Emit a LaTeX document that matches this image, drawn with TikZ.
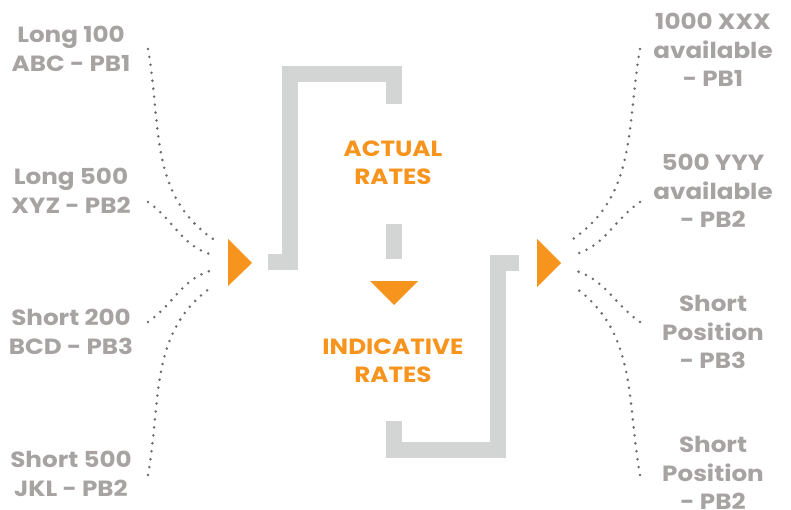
\documentclass[tikz,border=0pt]{standalone}
\usepackage{fontspec}
\setmainfont{Poppins}[FakeStretch=1.12]
\usepackage{xcolor}
\usetikzlibrary{positioning}
\definecolor{rateorange}{HTML}{F7941D}
\definecolor{labelgray}{HTML}{A7A3A3}
\definecolor{bargray}{HTML}{D3D4D4}
\definecolor{dotgray}{HTML}{6E6A6A}

\begin{document}
\begin{tikzpicture}[x=1pt, y=-1pt,
    lbl/.style={align=center, text=labelgray, inner sep=0pt,
        font=\fontsize{22}{28.5}\selectfont\bfseries},
    rate/.style={align=center, text=rateorange, inner sep=0pt,
        font=\fontsize{22}{28}\selectfont\bfseries},
    bar/.style={draw=bargray, line width=16pt, line join=miter},
    fan/.style={draw=dotgray, line width=2.8pt, line cap=round,
        dash pattern=on 0pt off 8pt},
    tip/.style={fill=rateorange}]
    \useasboundingbox (0,0) rectangle (791,510);

    % positions on the left
    \node[lbl] (long100)  at (71,49)  {Long 100\\ABC - PB1};
    \node[lbl] (long500)  at (71,191) {Long 500\\XYZ - PB2};
    \node[lbl] (short200) at (71,332) {Short 200\\BCD - PB3};
    \node[lbl] (short500) at (71,474) {Short 500\\JKL - PB2};

    % availability on the right
    \node[lbl] (xxx)   at (713,50)  {1000 XXX\\available\\- PB1};
    \node[lbl] (yyy)   at (713,191) {500 YYY\\available\\- PB2};
    \node[lbl] (pos3)  at (713,332) {Short\\Position\\- PB3};
    \node[lbl] (pos2)  at (713,473) {Short\\Position\\- PB2};

    \node[rate] (actual) at (393,163) {ACTUAL\\RATES};
    \node[rate] (indic)  at (393,361) {INDICATIVE\\RATES};

    \coordinate (a1) at (148,49);
    \coordinate (a2) at (148,202);
    \coordinate (a3) at (148,322);
    \coordinate (a4) at (148,475);
    \coordinate (in1) at (213,239);
    \coordinate (in2) at (213,255);
    \coordinate (in3) at (213,270);
    \coordinate (in4) at (213,286);

    \coordinate (b1) at (640,49);
    \coordinate (b2) at (640,202);
    \coordinate (b3) at (640,322);
    \coordinate (b4) at (640,475);
    \coordinate (out1) at (573,239);
    \coordinate (out2) at (573,255);
    \coordinate (out3) at (573,270);
    \coordinate (out4) at (573,286);

    \draw[fan]
        (a1) to[out=-80, in=145]  (in1)
        (a2) to[out=-35, in=165]  (in2)
        (a3) to[out=35,  in=-165] (in3)
        (a4) to[out=80,  in=-145] (in4);
    \draw[fan]
        (b1) to[out=-100, in=35]  (out1)
        (b2) to[out=-145, in=15]  (out2)
        (b3) to[out=145,  in=-15] (out3)
        (b4) to[out=100,  in=-35] (out4);

    % brackets
    \draw[bar] (268,262) -- (290,262) -- (290,74) -- (394,74) -- (394,104);
    \draw[bar] (394,224) -- (394,259);
    \draw[bar] (519,263) -- (498,263) -- (498,450) -- (394,450) -- (394,421);

    \fill[tip] (228,239) -- (252,263) -- (228,286) -- cycle;
    \fill[tip] (370,281) -- (418,281) -- (394,305) -- cycle;
    \fill[tip] (537,239) -- (561,263) -- (537,287) -- cycle;
\end{tikzpicture}
\end{document}
